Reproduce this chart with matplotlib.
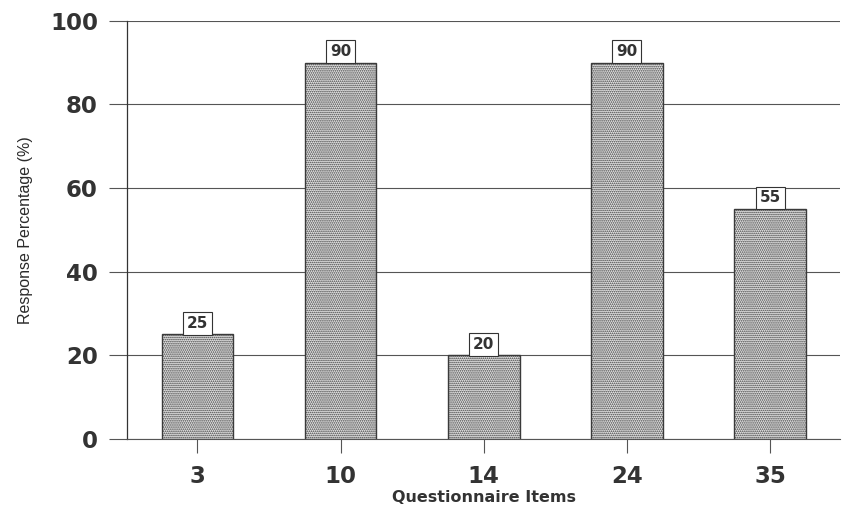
import numpy as np
import matplotlib.pyplot as plt

plt.rcParams['font.family'] = ['DejaVu Sans']
plt.rcParams['hatch.linewidth'] = 0.8
plt.rcParams['hatch.color'] = '#3a3a3a'

# datos
items = ["3", "10", "14", "24", "35"]
percent = [25, 90, 20, 90, 55]

fig = plt.figure(figsize=(8.42, 5.08), dpi=100)
ax = fig.add_axes([0.151, 0.136, 0.847, 0.823])

x = np.arange(len(items))
ax.bar(x, percent, width=0.5, color="#e6e6e6", edgecolor="#3a3a3a",
       hatch="........", linewidth=1.0, zorder=3)

# etiquetas con caja
for xi, v in zip(x, percent):
    ax.annotate(str(v), (xi, v), xytext=(0, 2.5), textcoords="offset points",
                ha="center", va="bottom", fontsize=11, color="#333333",
                fontweight="bold",
                bbox=dict(boxstyle="square,pad=0.25", fc="white", ec="#333333", lw=0.8),
                zorder=4)

ax.set_xlim(-0.49, 4.49)
ax.set_ylim(0, 100)
ax.set_yticks([0, 20, 40, 60, 80, 100])
ax.set_xticks(x)
ax.set_xticklabels(items)
ax.yaxis.grid(True, color="#555555", lw=0.8, zorder=0)

for s in ["top", "right"]:
    ax.spines[s].set_visible(False)
ax.spines["left"].set_color("#333333")
ax.spines["bottom"].set_color("#555555")
ax.spines["left"].set_linewidth(0.9)
ax.spines["bottom"].set_linewidth(0.8)

ax.tick_params(axis="y", length=13, width=0.8, color="#555555", pad=8, labelsize=16.5,
               labelcolor="#333333")
ax.tick_params(axis="x", length=10, width=0.8, color="#555555", pad=9, labelsize=16.5,
               labelcolor="#333333")
for lab in ax.get_xticklabels() + ax.get_yticklabels():
    lab.set_fontweight("bold")

ax.set_xlabel("Questionnaire Items", fontsize=11.5, fontweight="bold", color="#333333",
              labelpad=1)
ax.set_ylabel("Response Percentage (%)", fontsize=11.5, color="#2a2a2a", labelpad=12,
              family=["Liberation Sans Narrow", "Liberation Sans", "DejaVu Sans"])

plt.savefig("out.png", dpi=100)
